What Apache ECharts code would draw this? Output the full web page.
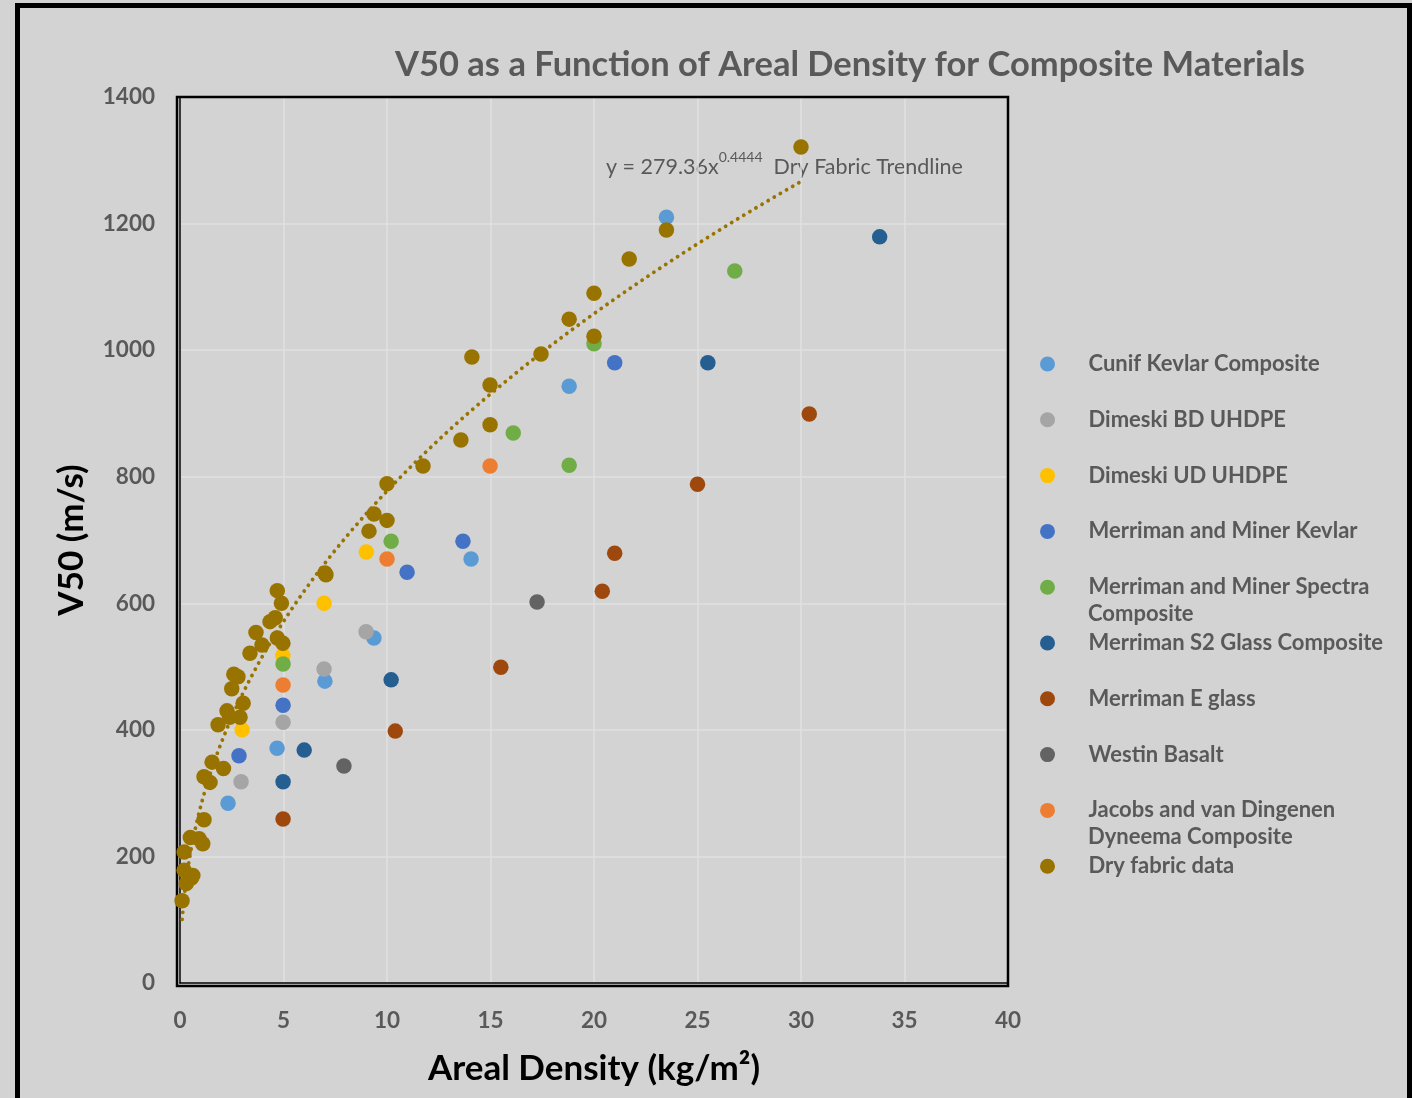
<!DOCTYPE html>
<html><head><meta charset="utf-8">
<script src="https://cdn.jsdelivr.net/npm/echarts@6/dist/echarts.min.js"></script>
<style>html,body{margin:0;padding:0;background:#d3d3d3;}#c{width:1412px;height:1098px;}</style>
</head><body><div id="c"></div>
<script>
// ---- data (x: areal density kg/m2, y: V50 m/s) ----
const cunifKevlar = [[2.32,284],[4.69,371],[7.0,477],[9.37,545],[14.06,670],[18.8,943],[23.5,1210]];
const dimeskiBD = [[2.95,318],[4.98,412],[6.96,496],[8.99,555]];
const dimeskiUD = [[3.0,400],[4.97,517],[6.96,600],[9.0,681]];
const mmKevlar = [[2.85,359],[4.98,439],[10.97,649],[13.67,698],[21.0,980]];
const mmSpectra = [[4.98,504],[10.2,698],[16.1,869],[18.8,818],[20.0,1010],[26.8,1125]];
const s2Glass = [[4.98,318],[6.0,368],[10.2,479],[25.5,980],[33.8,1179]];
const eGlass = [[4.98,259],[10.4,398],[15.5,499],[20.4,619],[21.0,679],[25.0,788],[30.4,899]];
const westinBasalt = [[7.92,343],[17.25,602]];
const jacobsDyneema = [[4.98,471],[10.0,670],[14.98,817]];
const dryFabric = [[0.1,130],[0.2,178],[0.3,157],[0.55,166],[0.62,170],[0.5,230],[0.92,228],[1.1,220],[0.2,207],[1.16,258],
  [1.16,326],[1.45,317],[1.55,349],[2.1,339],[1.84,408],[2.27,430],[2.4,420],[2.9,420],[3.05,442],[2.5,465],[2.6,488],
  [2.8,484],[3.38,521],[3.67,554],[3.96,534],[4.35,571],[4.6,577],[4.7,545],[4.97,537],[4.7,620],[4.9,600],[7.0,648],
  [7.05,645],[9.13,714],[9.37,741],[10.0,731],[10.0,789],[11.74,817],[13.57,858],[14.98,882],[14.98,945],[14.1,989],
  [17.44,994],[18.8,1049],[20.0,1022],[20.0,1090],[21.7,1144],[23.5,1190],[30.0,1321]];
// trendline from displayed equation y = 279.36 x^0.4444, x in [0.1, 30]
const trendA = 279.36, trendB = 0.4444, trendRange = [0.1, 30];
const xTicks = {min:0, max:40, interval:5};
const yTicks = {min:0, max:1400, interval:200};

const names = ['Cunif Kevlar Composite','Dimeski BD UHDPE','Dimeski UD UHDPE','Merriman and Miner Kevlar',
  'Merriman and Miner Spectra Composite','Merriman S2 Glass Composite','Merriman E glass','Westin Basalt',
  'Jacobs and van Dingenen Dyneema Composite','Dry fabric data'];
const datasets = [cunifKevlar,dimeskiBD,dimeskiUD,mmKevlar,mmSpectra,s2Glass,eGlass,westinBasalt,jacobsDyneema,dryFabric];
const colors = ['#5B9BD5','#A5A5A5','#FFC000','#4472C4','#70AD47','#255E91','#9E480E','#636363','#ED7D31','#997300'];
const firstLine = {'Merriman and Miner Spectra Composite':'Merriman and Miner Spectra',
  'Jacobs and van Dingenen Dyneema Composite':'Jacobs and van Dingenen'};

const trend = [];
for (let i = 0; i <= 200; i++) {
  const x = trendRange[0] + (trendRange[1]-trendRange[0]) * i / 200;
  trend.push([x, trendA * Math.pow(x, trendB)]);
}

const font = 'Lato, "Open Sans", sans-serif';
const series = datasets.map((d,i) => ({
  name: names[i], type: 'scatter', data: d, symbolSize: 15.5,
  itemStyle: {color: colors[i], opacity: 1}, z: 3 + i
}));
series.push({
  name: 'trend', type: 'line', data: trend, showSymbol: false, symbol: 'none', smooth: false,
  lineStyle: {color: '#997300', width: 3.8, type: [0.1, 7], cap: 'round'}, z: 2, silent: true
});

const chart = echarts.init(document.getElementById('c'));
chart.setOption({
  backgroundColor: '#d3d3d3',
  animation: false,
  title: {
    text: 'V50 as a Function of Areal Density for Composite Materials',
    left: 845, top: 42, textAlign: 'center',
    textStyle: {fontFamily: font, fontSize: 34.5, fontWeight: 'bold', color: '#595959'}
  },
  grid: {left: 180, right: 404, top: 97, bottom: 115, show: false},
  xAxis: {
    type: 'value', min: xTicks.min, max: xTicks.max, interval: xTicks.interval,
    name: 'Areal Density (kg/m²)', nameLocation: 'middle', nameGap: 68,
    nameTextStyle: {fontFamily: font, fontSize: 35, fontWeight: 'bold', color: '#000'},
    axisLine: {show: true, lineStyle: {color: '#000', width: 1.5}},
    axisTick: {show: false},
    axisLabel: {margin: 26, fontFamily: font, fontSize: 22.5, fontWeight: 'bold', color: '#595959'},
    splitLine: {show: true, lineStyle: {color: '#e0e0e0', width: 1.5}}
  },
  yAxis: {
    type: 'value', min: yTicks.min, max: yTicks.max, interval: yTicks.interval,
    name: 'V50 (m/s)', nameLocation: 'middle', nameGap: 91, nameRotate: 90,
    nameTextStyle: {fontFamily: font, fontSize: 35, fontWeight: 'bold', color: '#000'},
    axisLine: {show: true, lineStyle: {color: '#000', width: 1.5}},
    axisTick: {show: false},
    axisLabel: {margin: 25, fontFamily: font, fontSize: 22.5, fontWeight: 'bold', color: '#595959',
      formatter: v => String(v)},
    splitLine: {show: true, lineStyle: {color: '#e0e0e0', width: 1.5}}
  },
  legend: {
    orient: 'vertical', left: 1035, top: 348,
    data: names, icon: 'circle', itemWidth: 72, itemHeight: 15, itemGap: 33.8,
    selectedMode: false,
    formatter: n => firstLine[n] || n,
    textStyle: {fontFamily: font, fontSize: 22, fontWeight: 'bold', color: '#595959', lineHeight: 20}
  },
  graphic: [
    {type: 'rect', left: 15, top: 3, shape: {width: 1392, height: 1100}, style: {fill: 'none', stroke: '#000', lineWidth: 5}, silent: true},
    {type: 'rect', shape: {x: 177, y: 97, width: 831, height: 889}, style: {fill: 'none', stroke: '#000', lineWidth: 2.5}, silent: true, z: 10},
    {type: 'text', left: 1088, top: 603, style: {text: 'Composite', font: 'bold 22px ' + font, fill: '#595959'}},
    {type: 'text', left: 1088, top: 826, style: {text: 'Dyneema Composite', font: 'bold 22px ' + font, fill: '#595959'}},
    {type: 'text', left: 606, top: 150, style: {
      text: '{b|y = 279.36x}{s|0.4444}{b|  Dry Fabric Trendline}',
      rich: {
        b: {fontFamily: font, fontSize: 21.5, fill: '#595959', lineHeight: 28, verticalAlign: 'bottom'},
        s: {fontFamily: font, fontSize: 14, fill: '#595959', lineHeight: 28, verticalAlign: 'top'}
      }
    }}
  ],
  series: series
});
</script></body></html>
